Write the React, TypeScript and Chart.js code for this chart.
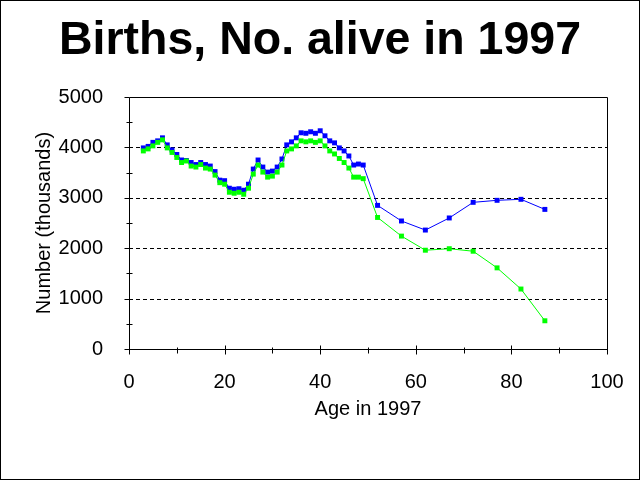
import { useEffect, useRef } from 'react';
import { Chart, registerables } from 'chart.js';

Chart.register(...registerables);

const chartTitle = 'Births, No. alive in 1997';
const xTitle = 'Age in 1997';
const yTitle = 'Number (thousands)';

const ages = [
  3, 4, 5, 6, 7, 8, 9, 10, 11, 12, 13, 14, 15, 16, 17, 18, 19, 20, 21, 22, 23, 24, 25, 26,
  27, 28, 29, 30, 31, 32, 33, 34, 35, 36, 37, 38, 39, 40, 41, 42, 43, 44, 45, 46, 47, 48, 49,
  52, 57, 62, 67, 72, 77, 82, 87,
];
const births = [
  3990, 4020, 4100, 4130, 4190, 4050, 3950, 3860, 3750, 3740, 3700, 3660, 3700, 3660, 3630,
  3520, 3350, 3340, 3190, 3170, 3180, 3150, 3270, 3570, 3750, 3610, 3510, 3530, 3610, 3770,
  4050, 4110, 4190, 4290, 4280, 4310, 4280, 4330, 4230, 4130, 4090, 3990, 3930, 3830, 3650,
  3670, 3650,
  2850, 2540, 2360, 2600, 2910, 2950, 2970, 2770,
];
const alive = [
  3930, 3970, 4030, 4100, 4150, 3990, 3900, 3800, 3700, 3730, 3630, 3610, 3660, 3590, 3570,
  3450, 3300, 3270, 3110, 3090, 3110, 3070, 3190, 3470, 3650, 3510, 3410, 3430, 3510, 3650,
  3930, 3970, 4030, 4130, 4110, 4130, 4100, 4130, 4030, 3930, 3870, 3780, 3700, 3590, 3410,
  3410, 3380,
  2610, 2240, 1960, 1990, 1940, 1610, 1190, 560,
];

const xMin = 0;
const xMax = 100;
const xMajorStep = 20;
const xMinorStep = 10;
const yMin = 0;
const yMax = 5000;
const yMajorStep = 1000;
const yMinorStep = 500;
const yGridValues = [1000, 2000, 3000, 4000];

const FONT = '"Liberation Sans", Arial, Helvetica, sans-serif';

const framePlugin = {
  id: 'framePlugin',
  beforeDraw(chart: any) {
    const { ctx, width, height } = chart;
    ctx.save();
    ctx.fillStyle = '#ffffff';
    ctx.fillRect(0, 0, width, height);
    ctx.restore();
  },
  beforeDatasetsDraw(chart: any) {
    const { ctx, chartArea: a, scales } = chart;
    const x = scales.x;
    const y = scales.y;
    ctx.save();
    ctx.strokeStyle = '#000000';
    ctx.lineWidth = 1;
    // dashed grid lines
    ctx.setLineDash([4, 3]);
    ctx.beginPath();
    for (const v of yGridValues) {
      const py = Math.round(y.getPixelForValue(v)) + 0.5;
      ctx.moveTo(a.left, py);
      ctx.lineTo(a.right, py);
    }
    ctx.stroke();
    ctx.setLineDash([]);
    // plot frame
    const l = Math.round(a.left) + 0.5;
    const t = Math.round(a.top) + 0.5;
    const r = Math.round(a.right) + 0.5;
    const b = Math.round(a.bottom) + 0.5;
    ctx.beginPath();
    ctx.moveTo(l, t);
    ctx.lineTo(r, t);
    ctx.lineTo(r, b);
    ctx.lineTo(l, b);
    ctx.closePath();
    ctx.stroke();
    // x ticks
    ctx.beginPath();
    for (let v = xMin; v <= xMax; v += xMinorStep) {
      const major = v % xMajorStep === 0;
      const px = Math.round(x.getPixelForValue(v)) + 0.5;
      ctx.moveTo(px, b - (major ? 4 : 2));
      ctx.lineTo(px, b + (major ? 5 : 4));
    }
    // y ticks
    for (let v = yMin; v <= yMax; v += yMinorStep) {
      const major = v % yMajorStep === 0;
      const py = Math.round(y.getPixelForValue(v)) + 0.5;
      if (major) {
        ctx.moveTo(l - 5, py);
        ctx.lineTo(l, py);
      } else {
        ctx.moveTo(l - 3, py);
        ctx.lineTo(l + 3, py);
      }
    }
    ctx.stroke();
    // outer border
    ctx.strokeRect(0.5, 0.5, chart.width - 1, chart.height - 1);
    ctx.restore();
  },
};

export default function App() {
  const canvasRef = useRef<HTMLCanvasElement | null>(null);

  useEffect(() => {
    const canvas = canvasRef.current;
    if (!canvas) return;
    const birthsData = ages.map((a, i) => ({ x: a, y: births[i] }));
    const aliveData = ages.map((a, i) => ({ x: a, y: alive[i] }));

    const chart = new Chart(canvas, {
      type: 'line',
      data: {
        datasets: [
          {
            label: 'Births',
            data: birthsData,
            borderColor: '#0000ff',
            backgroundColor: '#0000ff',
            borderWidth: 1,
            pointStyle: 'rect',
            pointRadius: 3.5,
            pointBorderWidth: 0,
            tension: 0,
            order: 2,
          },
          {
            label: 'Alive in 1997',
            data: aliveData,
            borderColor: '#00ff00',
            backgroundColor: '#00ff00',
            borderWidth: 1,
            pointStyle: 'rect',
            pointRadius: 3.5,
            pointBorderWidth: 0,
            tension: 0,
            order: 1,
          },
        ],
      },
      options: {
        animation: false,
        responsive: false,
        maintainAspectRatio: false,
        layout: { padding: { left: 0, right: 0, top: 0, bottom: 0 } },
        plugins: {
          legend: { display: false },
          tooltip: { enabled: false },
          title: {
            display: true,
            text: chartTitle,
            color: '#000000',
            font: { family: FONT, size: 46.5, weight: 'bold', lineHeight: 1.2 },
            padding: { top: 13, bottom: 28.2 },
          },
        },
        scales: {
          x: {
            type: 'linear',
            min: xMin,
            max: xMax,
            grid: { display: false },
            border: { display: false },
            ticks: {
              stepSize: xMajorStep,
              color: '#000000',
              padding: 13,
              maxRotation: 0,
              font: { family: FONT, size: 20 },
              callback: (v: any) => String(v),
            },
            title: {
              display: true,
              text: xTitle,
              color: '#000000',
              font: { family: FONT, size: 20, lineHeight: 1.2 },
              padding: { top: 0, bottom: 59 },
            },
            afterFit(scale: any) {
              scale.height = 131;
            },
          },
          y: {
            type: 'linear',
            min: yMin,
            max: yMax,
            grid: { display: false },
            border: { display: false },
            ticks: {
              stepSize: yMajorStep,
              color: '#000000',
              padding: 18,
              font: { family: FONT, size: 20 },
              callback: (v: any) => String(v),
            },
            title: {
              display: true,
              text: yTitle,
              color: '#000000',
              font: { family: FONT, size: 20, lineHeight: 1.2 },
              padding: { top: 32, bottom: 0 },
            },
            afterFit(scale: any) {
              scale.width = 129;
            },
          },
          yRight: {
            type: 'linear',
            position: 'right',
            display: true,
            grid: { display: false },
            border: { display: false },
            ticks: { display: false },
            afterFit(scale: any) {
              scale.width = 33;
            },
          },
        },
      },
      plugins: [framePlugin],
    });

    return () => {
      chart.destroy();
    };
  }, []);

  return (
    <div style={{ position: 'absolute', left: 0, top: 0, width: 640, height: 480 }}>
      <canvas ref={canvasRef} width={640} height={480} style={{ display: 'block' }} />
    </div>
  );
}
